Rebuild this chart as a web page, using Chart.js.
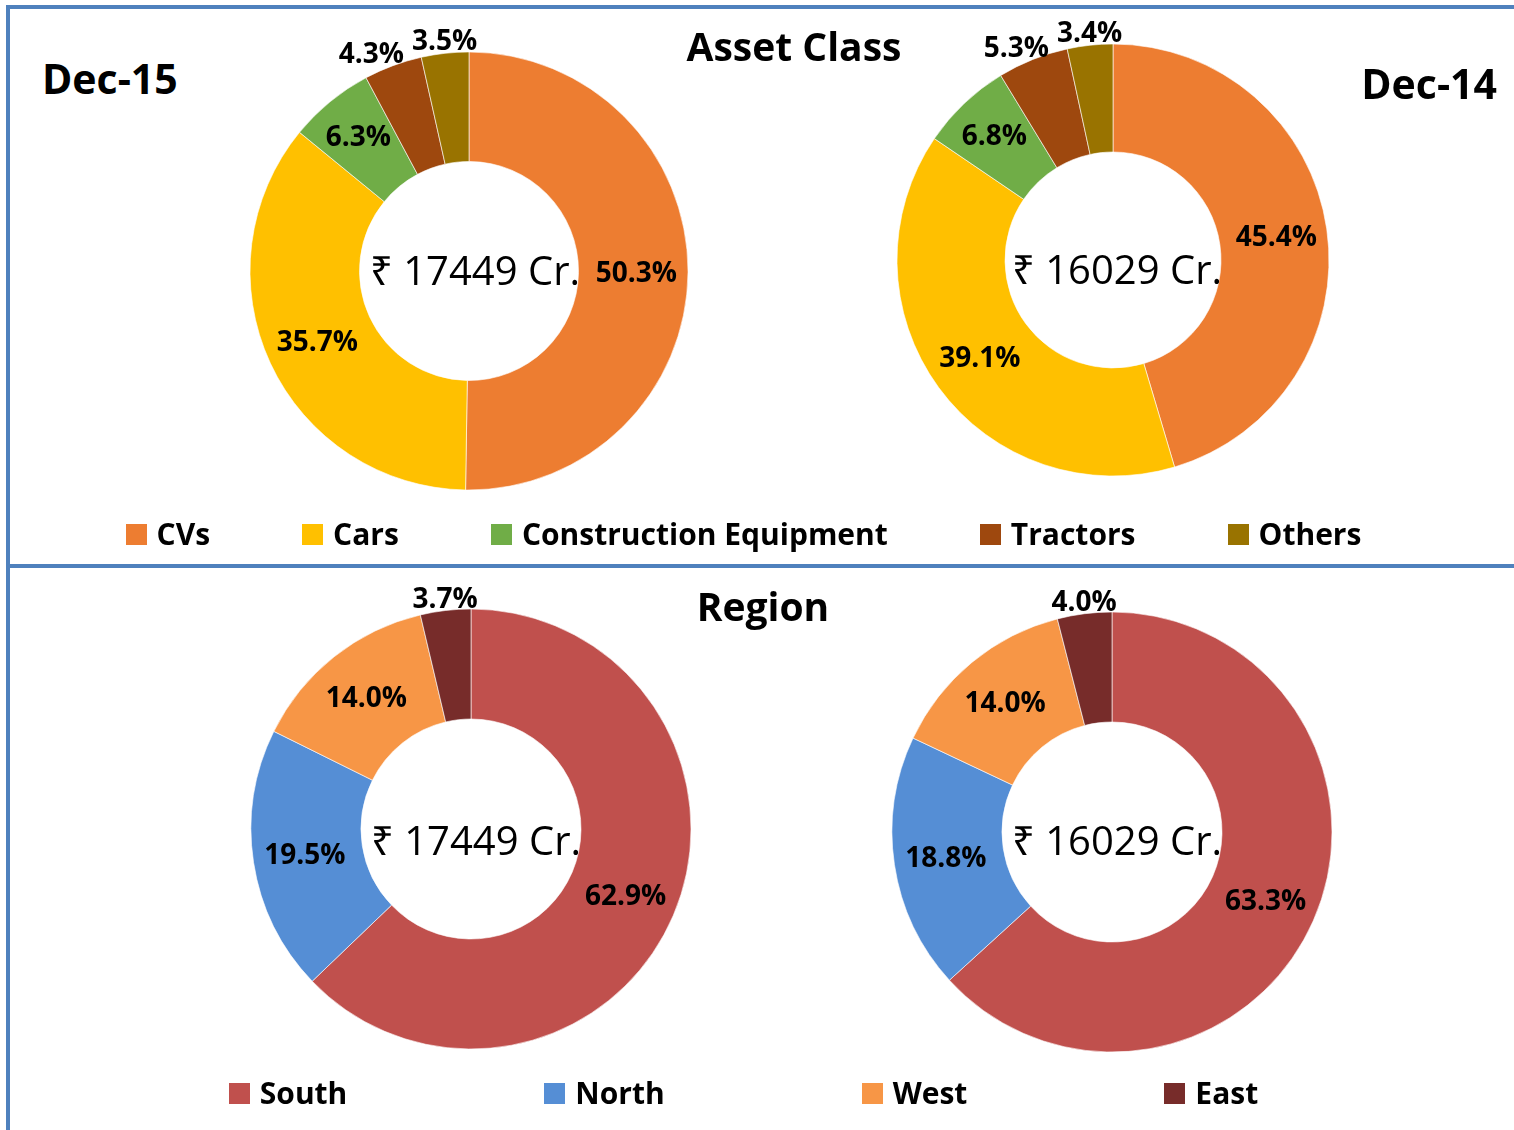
<!DOCTYPE html>
<html>
<head>
<meta charset="utf-8">
<script src="https://cdn.jsdelivr.net/npm/chart.js@4.4.1/dist/chart.umd.min.js"></script>
<style>
  html, body { margin: 0; padding: 0; background: #fff; }
  body { width: 1514px; height: 1130px; position: relative; overflow: hidden; font-family: "Open Sans", "Noto Sans", sans-serif; }
  .line { position: absolute; background: #4F81BD; }
  .title { position: absolute; font-weight: bold; line-height: 1; color: #000; white-space: nowrap; z-index: 2; }
  canvas { position: absolute; }
  .legend { position: absolute; left: 0; width: 1487px; display: flex; justify-content: center; align-items: center; z-index: 2; }
  .legend .item { display: flex; align-items: center; font-weight: bold; font-size: 30px; line-height: 1; }
  .legend .box { width: 21px; height: 21px; margin-right: 10px; }
</style>
</head>
<body>
<div class="line" style="left:6px;top:5px;width:1508px;height:4px"></div>
<div class="line" style="left:6px;top:5px;width:4px;height:1125px"></div>
<div class="line" style="left:6px;top:564px;width:1508px;height:4px"></div>

<div class="title" style="left:42px;top:58px;font-size:41px">Dec-15</div>
<div class="title" style="right:17px;top:63px;font-size:41px">Dec-14</div>
<div class="title" style="left:794px;top:26px;font-size:39px;transform:translateX(-50%)">Asset Class</div>
<div class="title" style="left:763px;top:586px;font-size:39px;transform:translateX(-50%)">Region</div>

<canvas id="assetDec15" width="520" height="520" style="left:209px;top:11px"></canvas>
<canvas id="assetDec14" width="520" height="520" style="left:853px;top:0px"></canvas>
<canvas id="regionDec15" width="520" height="520" style="left:211px;top:569px"></canvas>
<canvas id="regionDec14" width="520" height="520" style="left:852px;top:572px"></canvas>

<div class="legend" id="assetLegend" style="top:519px;gap:92px"></div>
<div class="legend" id="regionLegend" style="top:1078px;gap:197px"></div>

<script>
// Asset class split (%)
const assetLabels = ['CVs', 'Cars', 'Construction Equipment', 'Tractors', 'Others'];
const assetDec15 = [50.3, 35.7, 6.3, 4.3, 3.5];
const assetDec14 = [45.4, 39.1, 6.8, 5.3, 3.4];
const assetColors = ['#ED7D31', '#FFC000', '#70AD47', '#9E480E', '#997300'];

// Region split (%)
const regionLabels = ['South', 'North', 'West', 'East'];
const regionDec15 = [62.9, 19.5, 14.0, 3.7];
const regionDec14 = [63.3, 18.8, 14.0, 4.0];
const regionColors = ['#C0504D', '#558ED5', '#F79646', '#772C2A'];

// Portfolio totals (Rs crore)
const totalDec15 = 17449;
const totalDec14 = 16029;

// percentage labels + the total in the hole
const sliceLabels = {
    id: 'sliceLabels',
    afterDatasetsDraw(chart, args, opts) {
        const ctx = chart.ctx;
        const meta = chart.getDatasetMeta(0);
        const data = chart.data.datasets[0].data;
        const total = data.reduce((a, b) => a + b, 0);
        const size = 28;
        ctx.save();
        ctx.font = 'bold ' + size + 'px "Open Sans", "Noto Sans", sans-serif';
        ctx.fillStyle = '#000';
        ctx.textAlign = 'center';
        const outside = [];
        meta.data.forEach((arc, i) => {
            const p = arc.getProps(['x', 'y', 'startAngle', 'endAngle', 'innerRadius', 'outerRadius'], true);
            const mid = (p.startAngle + p.endAngle) / 2;
            const text = data[i].toFixed(1) + '%';
            if (data[i] / total < 0.06) {
                // small slices get their label just outside the ring
                const r = p.outerRadius + 3;
                outside.push({ text, x: p.x + Math.cos(mid) * r, y: p.y + Math.sin(mid) * r, w: ctx.measureText(text).width });
            } else {
                const share = data[i] / total;
                const r = (p.innerRadius + p.outerRadius) / 2 + (share < 0.1 ? 10 : 3);
                ctx.fillText(text, p.x + Math.cos(mid) * r, p.y + Math.sin(mid) * r + 0.357 * size);
            }
        });
        // push outside labels left so they don't collide
        let limit = Infinity;
        for (let k = outside.length - 1; k >= 0; k--) {
            const o = outside[k];
            let cx = o.x;
            if (cx + o.w / 2 > limit - 8) cx = limit - 8 - o.w / 2;
            ctx.fillText(o.text, cx, o.y);
            limit = cx - o.w / 2;
        }
        if (opts.text) {
            const c = meta.data[0];
            ctx.font = '40px "Open Sans", "Noto Sans", sans-serif';
            ctx.fillText(opts.text, c.x + (opts.dx || 0), c.y + (opts.dy || 0) + 0.357 * 40);
        }
        ctx.restore();
    }
};

function makeDonut(id, labels, values, colors, radius, total, dx, dy) {
    const pad = 260 - radius - 0.5;
    new Chart(document.getElementById(id), {
        type: 'doughnut',
        data: {
            labels: labels,
            datasets: [{
                data: values,
                backgroundColor: colors,
                borderColor: 'rgba(255,255,255,0.6)',
                borderWidth: 1,
                hoverOffset: 0
            }]
        },
        options: {
            responsive: false,
            animation: false,
            cutout: '50%',
            layout: { padding: pad },
            plugins: {
                legend: { display: false },
                tooltip: { enabled: false },
                sliceLabels: { text: '\u20B9 ' + total + ' Cr.', dx: dx, dy: dy }
            }
        },
        plugins: [sliceLabels]
    });
}

function makeLegend(id, labels, colors) {
    const el = document.getElementById(id);
    labels.forEach((label, i) => {
        const item = document.createElement('div');
        item.className = 'item';
        item.innerHTML = '<span class="box" style="background:' + colors[i] + '"></span>' + label;
        el.appendChild(item);
    });
}

makeDonut('assetDec15', assetLabels, assetDec15, assetColors, 219, totalDec15, 6, 0);
makeDonut('assetDec14', assetLabels, assetDec14, assetColors, 216, totalDec14, 4, 10);
makeDonut('regionDec15', regionLabels, regionDec15, regionColors, 220, totalDec15, 5, 12);
makeDonut('regionDec14', regionLabels, regionDec14, regionColors, 220, totalDec14, 5, 9);

makeLegend('assetLegend', assetLabels, assetColors);
makeLegend('regionLegend', regionLabels, regionColors);
</script>
</body>
</html>
